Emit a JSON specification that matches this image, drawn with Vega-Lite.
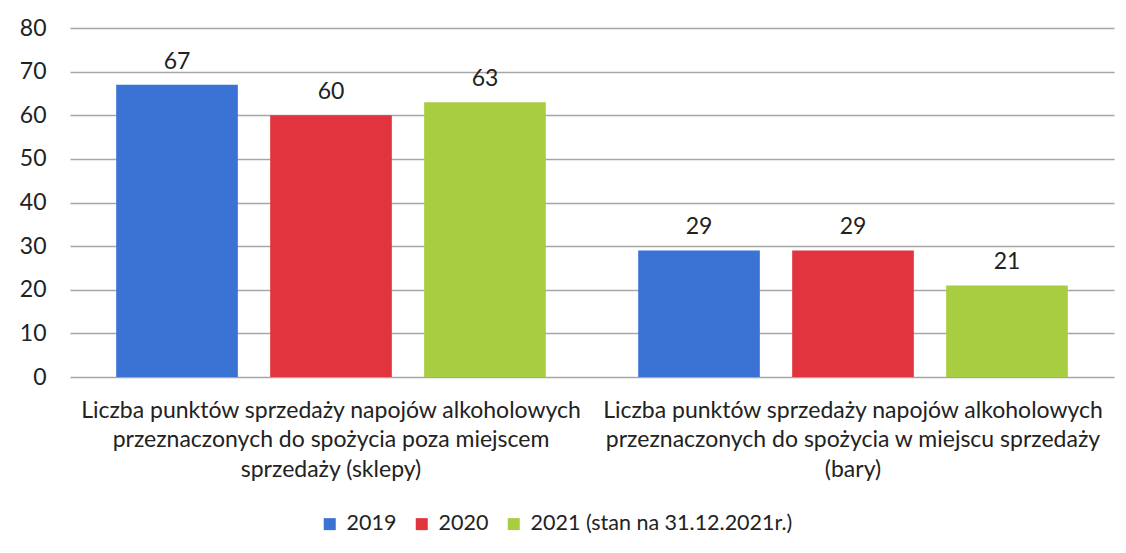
{
  "$schema": "https://vega.github.io/schema/vega-lite/v6.json",
  "width": 1044,
  "height": 349,
  "autosize": "none",
  "padding": {"left": 70, "top": 28, "right": 12, "bottom": 176},
  "background": "white",
  "config": {
    "font": "Lato",
    "view": {"stroke": null}
  },
  "data": {
    "values": [
      {"kat": "sklepy", "rok": "2019", "wartosc": 67},
      {"kat": "sklepy", "rok": "2020", "wartosc": 60},
      {"kat": "sklepy", "rok": "2021 (stan na 31.12.2021r.)", "wartosc": 63},
      {"kat": "bary", "rok": "2019", "wartosc": 29},
      {"kat": "bary", "rok": "2020", "wartosc": 29},
      {"kat": "bary", "rok": "2021 (stan na 31.12.2021r.)", "wartosc": 21}
    ]
  },
  "encoding": {
    "x": {
      "field": "kat",
      "type": "nominal",
      "sort": ["sklepy", "bary"],
      "scale": {"paddingInner": 0, "paddingOuter": 0},
      "axis": {
        "title": null,
        "domain": false,
        "ticks": false,
        "labelAngle": 0,
        "labelPadding": 22,
        "labelLimit": 0,
        "labelFontSize": 23,
        "labelFont": "Lato",
        "labelColor": "#222",
        "labelLineHeight": 29.5,
        "labelExpr": "datum.value == 'sklepy' ? ['Liczba punktów sprzedaży napojów alkoholowych', 'przeznaczonych do spożycia poza miejscem', 'sprzedaży (sklepy)'] : ['Liczba punktów sprzedaży napojów alkoholowych', 'przeznaczonych do spożycia w miejscu sprzedaży', '(bary)']"
      }
    },
    "xOffset": {
      "field": "rok",
      "type": "nominal",
      "scale": {"paddingInner": 0.21, "paddingOuter": 0.3}
    }
  },
  "layer": [
    {
      "mark": {"type": "bar"},
      "encoding": {
        "y": {
          "field": "wartosc",
          "type": "quantitative",
          "scale": {"domain": [0, 80]},
          "axis": {
            "title": null,
            "domain": false,
            "ticks": false,
            "values": [0, 10, 20, 30, 40, 50, 60, 70, 80],
            "labelOverlap": false,
            "labelFontSize": 23,
            "labelFont": "Lato",
            "labelColor": "#222",
            "labelPadding": 24,
            "gridColor": "#a6a6a6",
            "gridWidth": 1.3
          }
        },
        "color": {
          "field": "rok",
          "type": "nominal",
          "scale": {"range": ["#3b73d5", "#e2343f", "#a8cd41"]},
          "legend": {
            "title": null,
            "orient": "none",
            "direction": "horizontal",
            "legendX": 249,
            "legendY": 485,
            "symbolType": "square",
            "symbolSize": 144,
            "symbolOpacity": 1,
            "labelFontSize": 21.5,
            "labelFont": "Lato",
            "labelColor": "#222",
            "labelLimit": 0,
            "labelOffset": 6,
            "columnPadding": 14
          }
        }
      }
    },
    {
      "mark": {"type": "text", "dy": -23, "fontSize": 23, "font": "Lato", "color": "#222"},
      "encoding": {
        "y": {"field": "wartosc", "type": "quantitative"},
        "text": {"field": "wartosc", "type": "quantitative"}
      }
    }
  ]
}
